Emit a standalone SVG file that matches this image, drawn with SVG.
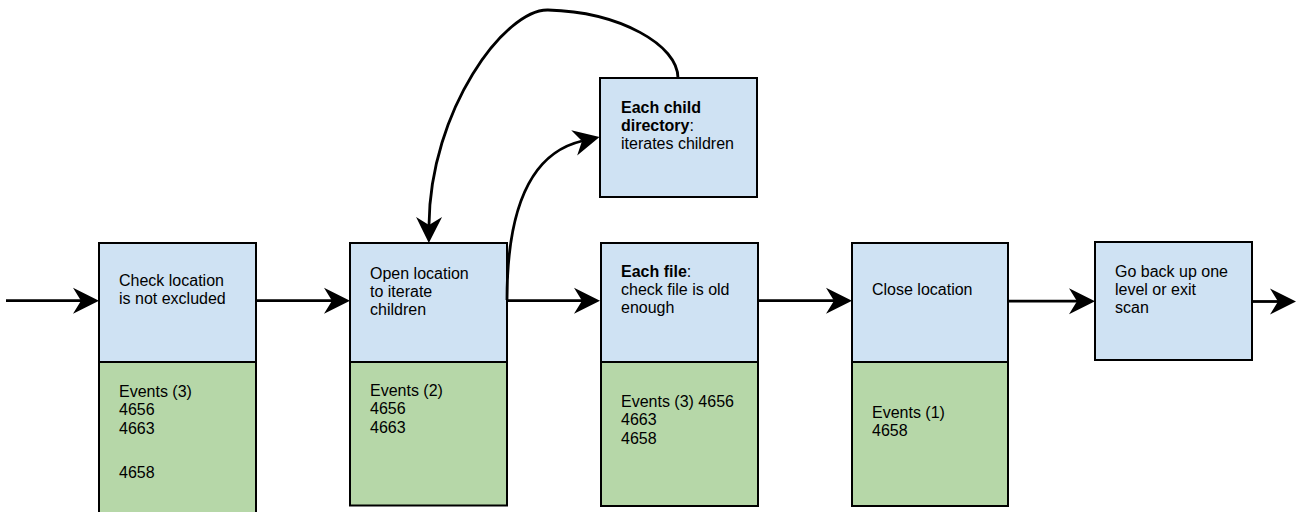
<svg xmlns="http://www.w3.org/2000/svg" width="1297" height="512" viewBox="0 0 1297 512">
<style>
.blue{fill:#cfe2f3;stroke:#000;stroke-width:2}
.green{fill:#b6d7a8;stroke:#000;stroke-width:2}
text{font-family:"Liberation Sans",Arial,sans-serif;font-size:16px;fill:#000}
.b{font-weight:bold}
.conn{fill:none;stroke:#000;stroke-width:2.8}
</style>
<defs>
<marker id="arr" markerUnits="userSpaceOnUse" markerWidth="30" markerHeight="30" viewBox="-10 -15 30 30" refX="0" refY="0" orient="auto">
<path d="M18,0 L-8,-13 L0,0 L-8,13 Z" fill="#000"/>
</marker>
</defs>
<rect width="1297" height="512" fill="#fff"/>
<g id="node-check">
<rect class="blue" x="99" y="243" width="157" height="119"/>
<rect class="green" x="99" y="362" width="157" height="155"/>
<text x="119" y="285.5">Check location</text>
<text x="119" y="304">is not excluded</text>
<text x="119" y="396.5">Events (3)</text>
<text x="119" y="415">4656</text>
<text x="119" y="433.5">4663</text>
<text x="119" y="478">4658</text>
</g>
<g id="node-open">
<rect class="blue" x="350" y="243" width="157" height="119"/>
<rect class="green" x="350" y="362" width="157" height="143.5"/>
<text x="370" y="278.5">Open location</text>
<text x="370" y="296.5">to iterate</text>
<text x="370" y="314.5">children</text>
<text x="370" y="395.5">Events (2)</text>
<text x="370" y="414">4656</text>
<text x="370" y="432.5">4663</text>
</g>
<g id="node-child">
<rect class="blue" x="600" y="78" width="157" height="119"/>
<text x="621" y="113" class="b">Each child</text>
<text x="621" y="131"><tspan class="b">directory</tspan>:</text>
<text x="621" y="149">iterates children</text>
</g>
<g id="node-file">
<rect class="blue" x="601" y="243" width="157" height="119"/>
<rect class="green" x="601" y="362" width="157" height="144"/>
<text x="621" y="277"><tspan class="b">Each file</tspan>:</text>
<text x="621" y="295">check file is old</text>
<text x="621" y="313">enough</text>
<text x="621" y="406.5">Events (3) 4656</text>
<text x="621" y="425">4663</text>
<text x="621" y="443.5">4658</text>
</g>
<g id="node-close">
<rect class="blue" x="852" y="243" width="156" height="119"/>
<rect class="green" x="852" y="362" width="156" height="144"/>
<text x="872" y="295">Close location</text>
<text x="872" y="417.5">Events (1)</text>
<text x="872" y="436">4658</text>
</g>
<g id="node-back">
<rect class="blue" x="1095" y="242" width="157" height="118"/>
<text x="1115" y="277">Go back up one</text>
<text x="1115" y="295">level or exit</text>
<text x="1115" y="313">scan</text>
</g>
<g id="connectors">
<path class="conn" d="M6,300.7 L81,300.7" marker-end="url(#arr)"/>
<path class="conn" d="M256,300.7 L332,300.7" marker-end="url(#arr)"/>
<path class="conn" d="M507,300.7 L582,300.7" marker-end="url(#arr)"/>
<path class="conn" d="M758,300.7 L834,300.7" marker-end="url(#arr)"/>
<path class="conn" d="M1008,301.2 L1077,301.2" marker-end="url(#arr)"/>
<path class="conn" d="M1252,301.5 L1278,301.5" marker-end="url(#arr)"/>
<path class="conn" d="M507,300 C507,200 535,152 582,141" marker-end="url(#arr)"/>
<path class="conn" d="M678,78 C678,45 620,12 548,10 C505,9 430,110 429,225" marker-end="url(#arr)"/>
</g>
</svg>
